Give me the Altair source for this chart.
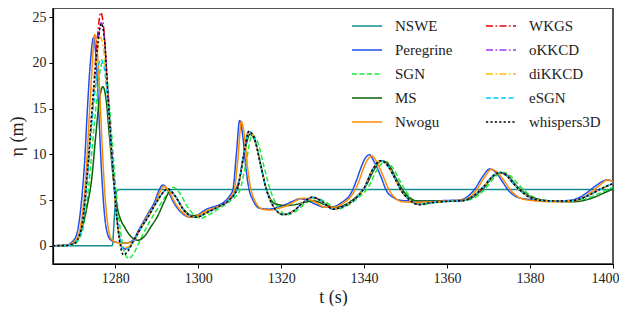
import altair as alt
import pandas as pd

# ---------------- data ----------------
nswe = [(1265, 0), (1279.3, 0), (1279.8, 3.2), (1280.3, 5.9), (1281, 6.15), (1400, 6.15)]

peregrine = [(1265, 0), (1268, 0.05), (1270, 0.6), (1271, 1.8), (1272, 5.5), (1272.6, 9.0),
             (1273.3, 15.0), (1274, 20.0), (1274.8, 22.8), (1275.5, 19.5), (1276, 15.0),
             (1276.6, 9.0), (1277.4, 3.5), (1278.2, 1.2), (1279, 0.6), (1280, 0.4),
             (1282.5, 0.3), (1284, 0.5), (1286, 2.0), (1288, 3.6), (1289.5, 4.8), (1290.5, 6.0),
             (1291.5, 6.65), (1292.5, 6.2), (1294, 4.8), (1296, 3.6), (1298.3, 3.1), (1300, 3.4),
             (1302, 4.0), (1304, 4.3), (1306, 4.7), (1307.5, 5.4), (1308.4, 6.2), (1309.2, 10.0),
             (1310, 13.7), (1310.8, 11.8), (1311.5, 8.5), (1312.2, 6.3), (1313.2, 5.0),
             (1314.8, 4.1), (1317, 4.0), (1319, 4.2), (1321, 4.5), (1323, 4.9), (1324.5, 5.15),
             (1326, 5.0), (1328, 4.6), (1330.5, 4.2), (1332.5, 4.25), (1334.5, 4.7), (1336.9, 5.8),
             (1338.2, 7.2), (1339.3, 8.6), (1340.3, 9.6), (1341.3, 9.95), (1342.4, 9.2),
             (1344.1, 7.5), (1345.3, 6.1), (1347.3, 5.2), (1349, 4.95), (1352, 4.9), (1356, 4.9),
             (1360, 4.95), (1363, 5.0), (1365, 5.4), (1366.7, 6.2), (1368.5, 7.5), (1370.3, 8.4),
             (1372, 7.9), (1373.5, 6.9), (1374.7, 6.1), (1376.5, 5.4), (1379, 5.1), (1383, 4.95),
             (1387, 4.9), (1390, 5.0), (1392, 5.3), (1394, 5.9), (1396, 6.6), (1398.6, 7.2),
             (1400, 7.05)]

sgn = [(1265, 0), (1268, 0.02), (1270, 0.15), (1272, 1.5), (1273.6, 6.5), (1275, 13.5),
       (1276.3, 19.0), (1277.2, 20.3), (1278, 18.5), (1279, 13.0), (1280.2, 6.0), (1281.3, 1.5),
       (1282.3, -0.8), (1283.3, -1.4), (1284.5, -0.8), (1286, 0.6), (1288, 2.4), (1290, 3.9),
       (1292, 5.3), (1294, 6.4), (1295.5, 5.8), (1297.5, 4.2), (1300.5, 3.0), (1303, 3.5),
       (1305.5, 4.2), (1308, 5.0), (1310, 6.0), (1311.5, 9.0), (1313, 12.1), (1314.3, 11.4),
       (1315.8, 8.8), (1317.3, 6.2), (1319, 4.4), (1321.5, 3.4), (1324, 3.9), (1326, 4.7),
       (1328.5, 5.2), (1331, 4.7), (1333.5, 4.0), (1336, 4.4), (1338.5, 5.2), (1341, 6.4),
       (1343, 8.2), (1345, 9.2), (1346.8, 8.6), (1348.5, 7.2), (1350, 6.0), (1352, 4.9),
       (1354, 4.5), (1357, 4.7), (1361, 4.85), (1365, 5.0), (1367.5, 5.5), (1369.5, 6.4),
       (1372, 7.7), (1373.6, 8.0), (1375.4, 7.6), (1377, 6.8), (1378.5, 6.1), (1380.5, 5.4),
       (1383, 5.0), (1386, 4.9), (1390, 4.9), (1393, 5.05), (1395.5, 5.5), (1398, 6.0),
       (1400, 6.4)]

ms = [(1265, 0), (1268, 0.02), (1270, 0.3), (1272, 2.0), (1273.3, 4.5), (1274.3, 7.2),
      (1275.3, 12.0), (1276.2, 16.0), (1277, 17.4), (1277.8, 16.0), (1278.6, 12.0),
      (1279.5, 7.5), (1280.3, 4.6), (1281.2, 3.0), (1282.3, 2.0), (1283.8, 1.0), (1285.5, 0.6),
      (1287, 1.0), (1288.5, 2.0), (1290.3, 3.3), (1291.8, 4.8), (1293.2, 5.9), (1294.5, 5.4),
      (1296.5, 4.0), (1298.5, 3.3), (1300.5, 3.3), (1303, 3.9), (1305.5, 4.4), (1308, 5.3),
      (1310, 7.4), (1311.3, 10.5), (1312.5, 12.2), (1313.8, 11.3), (1315.2, 8.5), (1316.6, 6.0),
      (1318.5, 4.6), (1321, 4.4), (1323.5, 4.5), (1326, 4.8), (1328, 4.9), (1330.5, 4.5),
      (1333, 4.2), (1335.5, 4.5), (1338, 5.3), (1340.5, 6.6), (1342.5, 8.4), (1344.3, 9.3),
      (1346, 8.8), (1347.8, 7.3), (1349.3, 6.1), (1351, 5.2), (1353, 4.9), (1356, 4.9),
      (1360, 4.9), (1364, 4.95), (1366.5, 5.4), (1368.8, 6.3), (1371, 7.5), (1373, 8.0),
      (1374.8, 7.6), (1376.3, 6.8), (1377.8, 6.1), (1380, 5.4), (1383, 5.0), (1386, 4.85),
      (1390, 4.8), (1393, 4.95), (1395.5, 5.3), (1398, 5.8), (1400, 6.2)]

nwogu = [(1265, 0), (1268, 0.05), (1270, 0.4), (1271, 1.0), (1272, 3.2), (1272.9, 7.5),
         (1273.6, 13.0), (1274.3, 18.5), (1275.05, 23.1), (1275.8, 20.5), (1276.3, 16.5),
         (1276.9, 10.5), (1277.7, 4.5), (1278.5, 1.5), (1279.3, 0.6), (1280.3, 0.35),
         (1282.5, 0.3), (1284.3, 0.45), (1286, 1.8), (1288, 3.4), (1289.7, 4.7), (1290.7, 5.8),
         (1291.8, 6.5), (1292.8, 6.1), (1294.3, 4.8), (1296.3, 3.6), (1298.6, 3.1), (1300.3, 3.4),
         (1302.3, 3.9), (1304.3, 4.2), (1306.3, 4.6), (1307.8, 5.3), (1308.7, 6.1), (1309.6, 9.6),
         (1310.4, 13.6), (1311.2, 11.8), (1311.9, 8.6), (1312.6, 6.4), (1313.6, 5.0),
         (1315.5, 4.0), (1317.5, 3.9), (1319.5, 4.1), (1321.5, 4.4), (1323.5, 4.9), (1325, 5.2),
         (1326.5, 5.1), (1328.5, 4.7), (1330.5, 4.2), (1332.5, 4.2), (1334.8, 4.6), (1337.3, 5.7),
         (1338.7, 7.0), (1339.8, 8.4), (1340.8, 9.4), (1341.9, 9.8), (1343, 9.2), (1344.7, 7.5),
         (1345.9, 6.2), (1347.8, 5.1), (1349.5, 4.8), (1352, 4.75), (1356, 4.8), (1360, 4.9),
         (1363.5, 5.0), (1365.4, 5.3), (1367.1, 6.1), (1368.9, 7.4), (1370.7, 8.35),
         (1372.4, 7.9), (1373.9, 7.0), (1375.1, 6.2), (1376.9, 5.4), (1379.4, 5.0), (1383, 4.85),
         (1387, 4.8), (1390.5, 4.9), (1392.5, 5.2), (1394.5, 5.8), (1396.5, 6.5), (1398.8, 7.2),
         (1400, 7.0)]

# shared later part of the fully dispersive models (they overlap in the picture)
cluster_tail = [(1284.5, 0.6), (1286, 1.8), (1288, 3.2), (1290, 4.8), (1292.7, 6.2),
                (1294.5, 5.4), (1296.5, 3.9), (1299.5, 3.1), (1302, 3.6), (1305, 4.3),
                (1307.5, 5.0), (1309.5, 6.3), (1311, 10.0), (1312.2, 12.5), (1313.5, 11.8),
                (1315, 9.0), (1316.4, 6.2), (1318, 4.4), (1320.5, 3.4), (1323, 3.8), (1325, 4.6),
                (1327.5, 5.3), (1330, 4.8), (1332.5, 4.0), (1335, 4.3), (1337.5, 5.0),
                (1340, 6.3), (1342, 8.3), (1344, 9.3), (1345.8, 8.7), (1347.5, 7.3), (1349, 6.0),
                (1351, 5.0), (1353, 4.5), (1356, 4.7), (1360, 4.85), (1364, 4.95), (1366.5, 5.5),
                (1368.7, 6.4), (1371, 7.6), (1372.7, 8.0), (1374.5, 7.6), (1376, 6.8),
                (1377.5, 6.1), (1379.5, 5.4), (1382, 5.0), (1385, 4.9), (1389, 4.9), (1392, 5.1),
                (1394.5, 5.6), (1397, 6.2), (1400, 6.8)]

wkgs_head = [(1265, 0), (1268, 0.03), (1270, 0.2), (1271.8, 1.7), (1273.4, 8.5), (1274.6, 16.0),
             (1275.7, 22.8), (1276.5, 25.5), (1277.3, 23.5), (1278.2, 16.5), (1279.4, 8.5),
             (1280.6, 2.2), (1282, -0.4), (1283.2, -0.2)]
okkcd_head = [(1265, 0), (1268, 0.03), (1270, 0.2), (1271.8, 1.7), (1273.4, 8.5), (1274.6, 15.8),
              (1275.8, 22.0), (1276.6, 24.4), (1277.4, 22.6), (1278.3, 16.2), (1279.5, 8.2),
              (1280.7, 1.9), (1282, -0.3), (1283.2, -0.2)]
dikkcd_head = [(1265, 0), (1268, 0.03), (1270, 0.2), (1271.8, 1.7), (1273.4, 8.4), (1274.6, 15.5),
               (1275.7, 21.2), (1276.4, 22.8), (1277.2, 21.5), (1278.2, 15.8), (1279.4, 8.3),
               (1280.6, 2.0), (1282, -0.2), (1283.2, -0.1)]
esgn_head = [(1265, 0), (1268, 0.03), (1270, 0.2), (1271.8, 1.6), (1273.4, 7.8), (1274.6, 14.5),
             (1275.7, 19.0), (1276.5, 20.4), (1277.3, 19.6), (1278.3, 15.0), (1279.5, 8.0),
             (1280.7, 2.0), (1282, -0.4), (1283.2, -0.3)]
whispers_head = [(1265, 0), (1268, 0.03), (1270, 0.2), (1271.8, 1.75), (1273.4, 8.7),
                 (1274.6, 15.9), (1275.8, 22.0), (1276.6, 24.3), (1277.4, 22.6), (1278.3, 16.0),
                 (1279.5, 8.0), (1280.7, 1.7), (1282, -1.0), (1283.2, -0.5)]

x_ticks = [1280, 1300, 1320, 1340, 1360, 1380, 1400]
y_ticks = [0, 5, 10, 15, 20, 25]

series_data = {
    "NSWE": nswe,
    "Peregrine": peregrine,
    "SGN": sgn,
    "MS": ms,
    "Nwogu": nwogu,
    "WKGS": wkgs_head + cluster_tail,
    "oKKCD": okkcd_head + cluster_tail,
    "diKKCD": dikkcd_head + cluster_tail,
    "eSGN": esgn_head + cluster_tail,
    "whispers3D": whispers_head + cluster_tail,
}

# ---------------- styles ----------------
draw_order = ["NSWE", "Peregrine", "SGN", "MS", "Nwogu", "WKGS", "oKKCD", "diKKCD", "eSGN", "whispers3D"]
legend_order = draw_order  # legend fills column by column
colors = {"NSWE": "#138d90", "Peregrine": "#1c4ff0", "SGN": "#1ee83c", "MS": "#0b610b",
          "Nwogu": "#ff8c00", "WKGS": "#e8000b", "oKKCD": "#9933ff", "diKKCD": "#ffbf00",
          "eSGN": "#00ccff", "whispers3D": "#000000"}
dashes = {"NSWE": [1, 0], "Peregrine": [1, 0], "SGN": [5, 2.5], "MS": [1, 0], "Nwogu": [1, 0],
          "WKGS": [7, 2.5, 1.5, 2.5], "oKKCD": [7, 2.5, 1.5, 2.5], "diKKCD": [7, 2.5, 1.5, 2.5],
          "eSGN": [5, 2.5], "whispers3D": [2.2, 2.2]}
widths = {"NSWE": 1.5, "Peregrine": 1.5, "SGN": 1.5, "MS": 1.5, "Nwogu": 1.5, "WKGS": 1.5,
          "oKKCD": 1.5, "diKKCD": 1.5, "eSGN": 1.5, "whispers3D": 2.6}

rows = []
for name, pts in series_data.items():
    for t, v in pts:
        rows.append({"series": name, "t": t, "eta": v})
df = pd.DataFrame(rows)

FONT = "Liberation Serif"

legend = alt.Legend(title=None, orient="none", legendX=298, legendY=2, columns=2,
                    symbolType="stroke", symbolSize=900, labelFont=FONT, labelFontSize=15,
                    labelColor="#222222", labelOffset=12, rowPadding=-8, columnPadding=30,
                    padding=0, symbolFillColor="transparent")

enc = dict(
    x=alt.X("t:Q", scale=alt.Scale(domain=[1265, 1400], nice=False, zero=False),
            axis=alt.Axis(values=x_ticks, title="t (s)", format="d", labelFlush=True,
                          labelFlushOffset=6)),
    y=alt.Y("eta:Q", scale=alt.Scale(domain=[-2, 26], nice=False, zero=False),
            axis=alt.Axis(values=y_ticks, title="η (m)", labelFlush=False)),
    color=alt.Color("series:N", scale=alt.Scale(domain=legend_order, range=[colors[s] for s in legend_order]), legend=legend),
    strokeDash=alt.StrokeDash("series:N", scale=alt.Scale(domain=legend_order, range=[dashes[s] for s in legend_order]), legend=legend),
    strokeWidth=alt.StrokeWidth("series:N", scale=alt.Scale(domain=legend_order, range=[widths[s] for s in legend_order]), legend=legend),
)

layers = [
    alt.Chart(df).mark_line(interpolate="monotone").encode(**enc).transform_filter(alt.datum.series == s)
    for s in draw_order
]

chart = alt.layer(*layers).properties(
    width=560, height=256, padding={"left": 0, "top": 0, "right": 0, "bottom": 0}
).configure_view(
    stroke="#555555", strokeWidth=2
).configure_axis(
    grid=False, domainColor="#000000", domainWidth=1.2, tickColor="#000000", tickSize=4,
    labelFont=FONT, labelFontSize=14, labelColor="#222222", labelPadding=3,
    titleFont=FONT, titleFontSize=18, titleFontWeight="normal", titleColor="#222222"
).configure_axisY(titlePadding=6).configure_axisX(titlePadding=3)

chart.save("out.html", embed_options={"renderer": "svg", "actions": False})
